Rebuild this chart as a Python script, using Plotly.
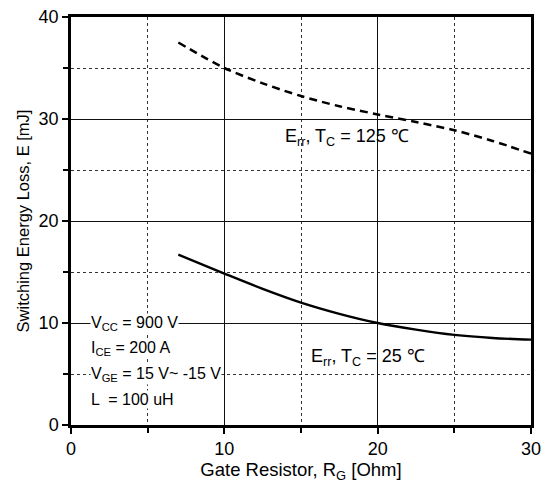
import plotly.graph_objects as go

rg = [7, 10, 12.5, 15, 17.5, 20, 22.5, 25, 27.5, 30]
err_125 = [37.5, 35.0, 33.5, 32.25, 31.25, 30.45, 29.7, 28.9, 27.85, 26.6]
err_25 = [16.7, 14.85, 13.35, 12.0, 10.9, 10.0, 9.35, 8.83, 8.53, 8.37]

x_ticks = [0, 10, 20, 30]
y_ticks = [0, 10, 20, 30, 40]

FONT = "Liberation Sans, Arial, sans-serif"

fig = go.Figure()
fig.add_trace(go.Scatter(x=rg, y=err_125, mode="lines", line=dict(color="black", width=2.5, dash="8px,5px", shape="spline", smoothing=0.8), showlegend=False))
fig.add_trace(go.Scatter(x=rg, y=err_25, mode="lines", line=dict(color="black", width=2.4, shape="spline", smoothing=0.8), showlegend=False))

axis_common = dict(
    showline=True, linecolor="black", linewidth=2.5, mirror=True,
    ticks="outside", ticklen=6, tickwidth=2, tickcolor="black",
    showgrid=True, gridcolor="#111", gridwidth=1,
    zeroline=False, automargin=False, ticklabeloverflow="allow",
    tickfont=dict(size=18, color="black", family=FONT),
    minor=dict(dtick=5, showgrid=True, gridcolor="#333", griddash="dot", gridwidth=1, ticks="outside", ticklen=5, tickwidth=1.5, tickcolor="black"),
)

fig.update_xaxes(range=[0, 30], tickvals=x_ticks, title=dict(text="Gate Resistor, R<sub>G</sub> [Ohm]", font=dict(size=18.5, family=FONT, color="black"), standoff=2), **axis_common)
fig.update_yaxes(range=[0, 40], tickvals=y_ticks, title=dict(text="Switching Energy Loss, E [mJ]", font=dict(size=16.5, family=FONT, color="black"), standoff=5), **axis_common)

ann = [
    ("E<sub>rr</sub>, T<sub>C</sub> = 125 ℃", 13.8, 28.2),
    ("E<sub>rr</sub>, T<sub>C</sub> = 25 ℃", 15.55, 6.6),
]
for t, x, y in ann:
    fig.add_annotation(x=x, y=y, text=t, showarrow=False, xanchor="left", yanchor="middle",
                       font=dict(size=18, family=FONT, color="black"))

cond = [
    ("V<sub>CC</sub> = 900 V", 10.0),
    ("I<sub>CE</sub> = 200 A", 7.5),
    ("V<sub>GE</sub> = 15 V~ -15 V", 5.0),
    ("L  = 100 uH", 2.5),
]
for t, y in cond:
    fig.add_annotation(x=1.25, y=y, text=t, showarrow=False, xanchor="left", yanchor="middle",
                       bgcolor="white", borderpad=0,
                       font=dict(size=16, family=FONT, color="black"))

fig.update_layout(
    width=543, height=476,
    margin=dict(l=63, r=20, t=9, b=59),
    plot_bgcolor="white", paper_bgcolor="white",
    font=dict(family=FONT, color="black"),
)

fig.write_html("out.html")
